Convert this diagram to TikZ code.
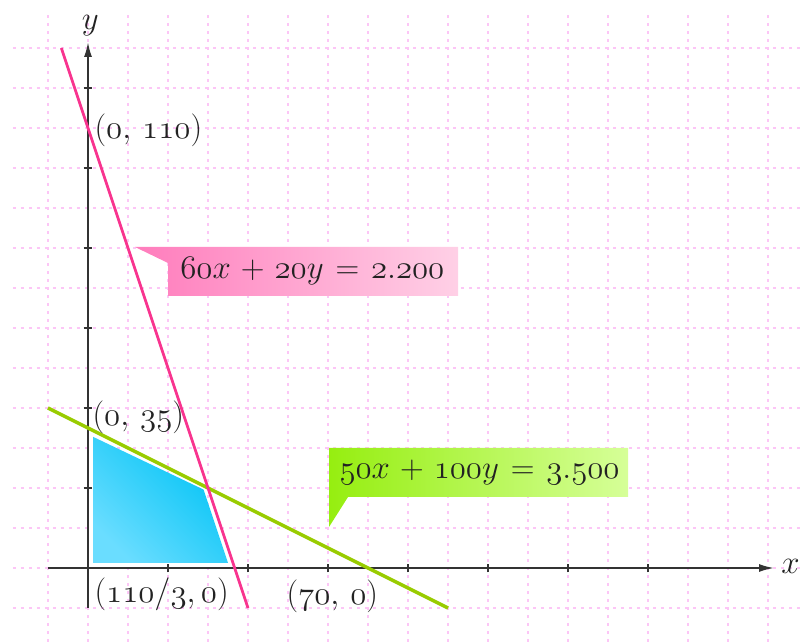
\RequirePackage{fix-cm}
\documentclass[tikz,border=0pt]{standalone}
\usetikzlibrary{arrows.meta}
\definecolor{gridpink}{HTML}{FCC6F6}
\definecolor{axisgray}{HTML}{333333}
\definecolor{txt}{HTML}{222222}
\definecolor{pinkline}{HTML}{F8348F}
\definecolor{greenline}{HTML}{99CC00}
\definecolor{pinkL}{HTML}{FF7CBC}
\definecolor{pinkR}{HTML}{FFD0E6}
\definecolor{greenL}{HTML}{96EE10}
\definecolor{greenR}{HTML}{D6FF98}
\definecolor{cyanA}{HTML}{00C3F5}
\definecolor{cyanB}{HTML}{6ADDFF}
\newcommand{\on}[1]{\mathnormal{#1}}
\newcommand{\xsp}{\mskip1.5mu}
\begin{document}
\begin{tikzpicture}[x=4bp,y=4bp,
  font=\fontsize{33}{40}\selectfont,
  gridline/.style={draw=gridpink,line width=2.6bp,dash pattern=on 2.6bp off 5.4bp},
  axisline/.style={draw=axisgray,line width=1.8bp},
  tickline/.style={draw=axisgray,line width=1.4bp},
  lbl/.style={text=txt,inner sep=0pt,anchor=west},
  eqlbl/.style={text=txt,inner sep=0pt}]
\useasboundingbox (-22,-18.5) rectangle (178.25,142);
% grid
\foreach \i in {-10,0,...,170} \draw[gridline] (\i,-18.5) -- (\i,138.25);
\foreach \j in {-10,0,...,130} \draw[gridline] (-18.75,\j) -- (178.25,\j);
% axes
\coordinate (xs) at (-10,0);
\coordinate (xe) at (171.5,0);
\coordinate (ys) at (0,-10);
\coordinate (ye) at (0,131.5);
\draw[axisline,-{Latex[length=15bp,width=8bp]}] (xs) -- (xe);
\draw[axisline,-{Latex[length=15bp,width=8bp]}] (ys) -- (ye);
\foreach \i in {20,40,...,140} \draw[tickline] (\i,-1.1) -- (\i,1.1);
\foreach \j in {20,40,...,120} \draw[tickline] (-1.1,\j) -- (1.1,\j);
\node[text=txt,inner sep=0pt] (xl) at (175.6,0.3) {$x$};
\node[text=txt,inner sep=0pt] (yl) at (0.6,135.6) {$y$};
% feasible region
\shade[top color=cyanA,bottom color=cyanB,shading angle=-45]
  (1.25,1.25) -- (1.25,32.8) -- (28.9,19.6) -- (35,1.25) -- cycle;
% lines
\coordinate (ga) at (-10,40);
\coordinate (gb) at (90,-10);
\coordinate (pa) at (-6.667,130);
\coordinate (pb) at (40,-10);
\draw[greenline,line width=3.4bp] (ga) -- (gb);
\draw[pinkline,line width=2.8bp] (pa) -- (pb);
% callouts
\shade[left color=pinkL,right color=pinkR]
  (11.75,80.25) -- (92.5,80.25) -- (92.5,68) -- (20,68) -- (20,76.25) -- cycle;
\node[eqlbl] (eqp) at (56.1,74.1) {$\on{60}x\xsp+\xsp\on{20}y\xsp=\xsp\on{2.200}$};
\shade[left color=greenL,right color=greenR]
  (60.25,30) -- (135,30) -- (135,17.75) -- (65,17.75) -- (60.25,10.25) -- cycle;
\node[eqlbl] (eqg) at (97.9,24) {$\on{50}x\xsp+\xsp\on{100}y\xsp=\xsp\on{3.500}$};
% point labels
\node[lbl] (p110) at (1.6,109.5) {$(\on{0},\,\on{110})$};
\node[lbl] (p35) at (1.1,37.6) {$(\on{0},\,\on{35})$};
\node[lbl] (px1) at (1.6,-6.5) {$(\on{110}/\on{3},\on{0})$};
\node[lbl] (px2) at (49.6,-7) {$(\on{70},\,\on{0})$};
\end{tikzpicture}
\end{document}
